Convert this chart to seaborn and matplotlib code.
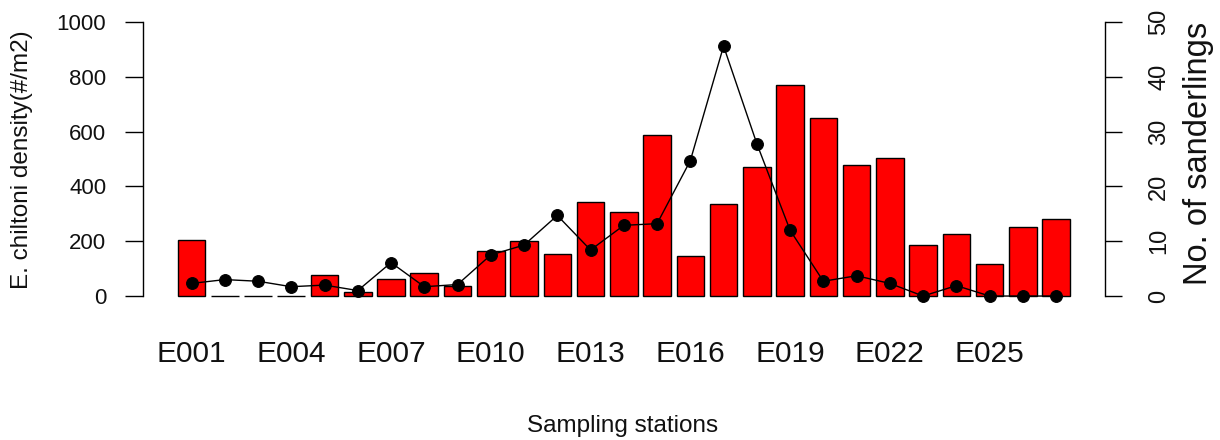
import numpy as np
import pandas as pd
import matplotlib
matplotlib.use("Agg")
import matplotlib.pyplot as plt
import seaborn as sns

# Sampling stations along the beach transect
stations = ["E001", "E002", "E003", "E004", "E005", "E006", "E007", "E008", "E009",
            "E010", "E011", "E012", "E013", "E014", "E015", "E016", "E017", "E018",
            "E019", "E020", "E021", "E022", "E023", "E024", "E025", "E026", "E027"]

# Emerita chiltoni density (#/m2) per station
density = [205, 0, 0, 0, 77, 16, 62, 83, 36, 165, 200, 152, 343, 308, 588, 146,
           336, 472, 770, 648, 478, 505, 186, 226, 117, 253, 280]

# Sanderlings counted per station
sanderlings = [2.3, 3.0, 2.7, 1.7, 2.0, 1.0, 6.1, 1.7, 2.1, 7.5, 9.3, 14.7, 8.4,
               12.9, 13.2, 24.7, 45.6, 27.8, 12.0, 2.7, 3.7, 2.3, 0.0, 1.9, 0.0,
               0.0, 0.0]

density_ticks = [0, 200, 400, 600, 800, 1000]
bird_ticks = [0, 10, 20, 30, 40, 50]

sns.set_style("white")
plt.rcParams["font.family"] = ["Liberation Sans", "DejaVu Sans"]
plt.rcParams["axes.edgecolor"] = "black"
plt.rcParams["axes.labelcolor"] = "#111111"
plt.rcParams["text.color"] = "#111111"
plt.rcParams["xtick.color"] = "black"
plt.rcParams["ytick.color"] = "black"
plt.rcParams["xtick.labelcolor"] = "#111111"
plt.rcParams["ytick.labelcolor"] = "#111111"

W, H = 1220, 440
fig = plt.figure(figsize=(W / 100, H / 100), dpi=100)
fig.patch.set_facecolor("white")
ax = fig.add_axes([143 / W, 133 / H, 962 / W, 296 / H])

df = pd.DataFrame({"station": stations, "density": density})
sns.barplot(data=df, x="station", y="density", color="#ff0000", saturation=1,
            edgecolor="black", linewidth=1.0, width=0.83, ax=ax)

# Sanderling counts on a secondary axis (0-50 mapped onto 0-1000)
ax2 = ax.twinx()
sns.lineplot(x=stations, y=sanderlings, sort=False, ax=ax2, color="black",
             linewidth=1.0, marker="o", markersize=8.5, markeredgecolor="black",
             markerfacecolor="black")

ymin, ymax = -40, 1040
ax.set_ylim(ymin, ymax)
ax2.set_ylim(ymin / 20, ymax / 20)
ax.set_xlim(-1.459, 27.47)

# Primary axis styling
ax.set_xticks(range(0, len(stations), 3))
ax.set_xticklabels(stations[::3])
ax.set_yticks(density_ticks)
ax.tick_params(axis="x", length=0, pad=24, labelsize=21.5)
ax.tick_params(axis="y", direction="out", length=13, width=1, pad=13.5,
               labelsize=16, left=True)
for side in ("top", "right", "bottom"):
    ax.spines[side].set_visible(False)
ax.spines["left"].set_bounds(0, 1000)
ax.spines["left"].set_linewidth(1)
ax.grid(False)

# Secondary axis styling
ax2.set_yticks(bird_ticks)
ax2.tick_params(axis="y", direction="out", length=12, width=1, pad=19,
                labelsize=17, labelrotation=90, right=True)
for t in ax2.yaxis.get_major_ticks():
    t.label2.set_va("center")
for side in ("top", "left", "bottom"):
    ax2.spines[side].set_visible(False)
ax2.spines["right"].set_bounds(0, 50)
ax2.spines["right"].set_linewidth(1)
ax2.grid(False)

# Axis titles
ax.set_xlabel("Sampling stations", fontsize=17.5, va="baseline")
ax.xaxis.set_label_coords(0.4984, (307 - 432) / 296)
ax.set_ylabel("E. chiltoni density(#/m2)", fontsize=17.5, rotation=90,
              rotation_mode="default", ha="center", va="center")
ax.yaxis.set_label_coords((22 - 143) / 962, (307 - 160) / 296)
ax2.set_ylabel("No. of sanderlings", fontsize=23.5, rotation=90,
               rotation_mode="default", ha="center", va="center")
ax2.yaxis.set_label_coords((1198 - 143) / 962, (307 - 153) / 296)

fig.savefig("out.png", dpi=100, facecolor="white")
